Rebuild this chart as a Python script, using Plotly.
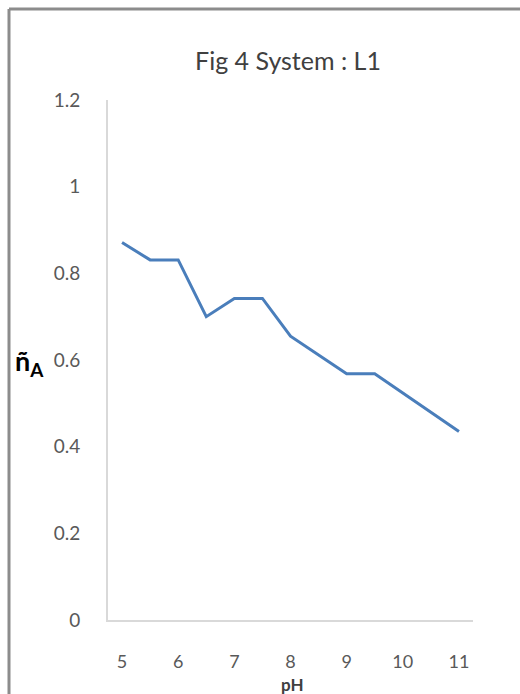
import plotly.graph_objects as go

ph = [5, 5.5, 6, 6.5, 7, 7.5, 8, 8.5, 9, 9.5, 10, 10.5, 11]
n_a = [0.871, 0.831, 0.831, 0.700, 0.742, 0.742, 0.655, 0.612, 0.568, 0.568, 0.523, 0.479, 0.435]

x_ticks = [5, 6, 7, 8, 9, 10, 11]
y_ticks = [0, 0.2, 0.4, 0.6, 0.8, 1.0, 1.2]
y_tick_text = ["0", "0.2", "0.4", "0.6", "0.8", "1", "1.2"]

W, H = 520, 694
L, R, T, B = 108, 47, 100, 74
pw, ph_ = W - L - R, H - T - B

def px(xp):
    return (xp - L) / pw

def py(yp):
    return (H - B - yp) / ph_

fig = go.Figure()
fig.add_trace(go.Scatter(
    x=ph, y=n_a, mode="lines",
    line=dict(color="#4A7EBB", width=3),
    showlegend=False, hoverinfo="skip",
))

font_family = "Lato, Liberation Sans, sans-serif"

fig.update_layout(
    width=W, height=H,
    margin=dict(l=L, r=R, t=T, b=B),
    paper_bgcolor="white", plot_bgcolor="white",
    font=dict(family=font_family, color="#595959", size=18),
    title=dict(text="Fig 4 System : L1", xref="paper", x=px(288), xanchor="center",
               yref="container", y=1 - 61 / H, yanchor="middle",
               font=dict(size=25, color="#404040", family=font_family)),
    xaxis=dict(range=[4.75, 11.25], tickvals=x_ticks, showgrid=False,
               zeroline=False, showline=True, linecolor="#D9D9D9", linewidth=2,
               ticks="outside", ticklen=24, tickcolor="rgba(0,0,0,0)",
               tickfont=dict(size=18, color="#595959")),
    yaxis=dict(range=[0, 1.2], tickvals=y_ticks, ticktext=y_tick_text,
               showgrid=False, zeroline=False, showline=True,
               linecolor="#D9D9D9", linewidth=2,
               ticks="outside", ticklen=22, tickcolor="rgba(0,0,0,0)",
               tickfont=dict(size=19, color="#595959")),
)

# axis titles
fig.add_annotation(text="<b>ñ</b><b><sub>A</sub></b>", xref="paper", yref="paper",
                   x=px(46), y=py(362), xanchor="right", yanchor="middle",
                   showarrow=False, font=dict(size=27, color="#000000", family=font_family))
fig.add_annotation(text="<b>pH</b>", xref="paper", yref="paper",
                   x=px(292), y=py(684), xanchor="center", yanchor="middle",
                   showarrow=False, font=dict(size=17, color="#404040", family=font_family))

# outer frame lines (top and left)
fig.add_shape(type="line", xref="paper", yref="paper",
              x0=px(9), y0=py(9), x1=px(W + 5), y1=py(9),
              line=dict(color="#8C8C8C", width=3))
fig.add_shape(type="line", xref="paper", yref="paper",
              x0=px(9), y0=py(9), x1=px(9), y1=py(H + 5),
              line=dict(color="#8C8C8C", width=3))

fig.write_html(
    "out.html",
    config={"displayModeBar": False},
    post_script="document.body.style.margin='0';document.body.style.padding='0';"
                "document.body.style.overflow='hidden';"
                "document.documentElement.style.overflow='hidden';",
)
